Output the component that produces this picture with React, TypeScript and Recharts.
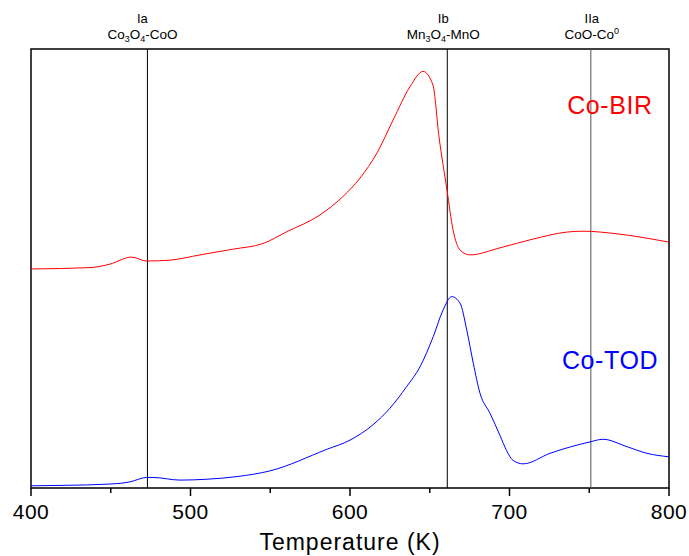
import React from 'react';
import { LineChart, Line, XAxis, YAxis, ReferenceLine, ReferenceArea, ReferenceDot } from 'recharts';

const birTemp = [400, 437, 449.5, 463, 472.5, 487, 506, 526.6, 545.5, 560.5, 581.2, 595.6, 606.3, 616.9, 627, 637.6, 645.8, 652, 655.8, 660.8, 664.6, 669, 675.2, 694, 714.7, 736.1, 746.1, 767.4, 800];
const birSignal = [49.9, 50.2, 51.0, 52.6, 51.7, 51.9, 53.1, 54.4, 55.7, 58.4, 62.2, 66.4, 70.6, 76.3, 83.8, 91.4, 94.9, 91.8, 80.0, 67.9, 58.8, 54.2, 53.1, 54.7, 56.7, 58.3, 58.5, 57.9, 56.0];

const todTemp = [400, 420.1, 449.5, 462.1, 472.5, 476.5, 493.4, 510.3, 529.2, 549.8, 585.4, 600, 614.4, 625.1, 635.5, 643.9, 652.2, 658.3, 663.8, 669, 673.2, 677.3, 681.5, 687.8, 694, 698.2, 702.2, 708.5, 725.4, 750.5, 758.6, 773.7, 786.2, 800];
const todSignal = [0.5, 0.6, 0.9, 1.4, 2.4, 2.4, 1.8, 2.0, 2.6, 3.9, 8.8, 10.9, 14.4, 18.2, 23.1, 27.6, 34.5, 40.5, 43.6, 42.1, 36.0, 28.4, 21.6, 17.0, 12.0, 8.5, 6.3, 5.5, 7.9, 10.5, 11.1, 9.4, 7.9, 7.1];

const xTicks = [400, 450, 500, 550, 600, 650, 700, 750, 800];

const birData = birTemp.map((t, i) => ({ t, v: birSignal[i] }));
const todData = todTemp.map((t, i) => ({ t, v: todSignal[i] }));

const FONT = 'Arial, "Liberation Sans", sans-serif';

const Tick = (props: any) => {
  const { x, y, payload } = props;
  const major = payload.value % 100 === 0;
  return (
    <g>
      <line x1={x} x2={x} y1={y} y2={y + (major ? 8 : 5)} stroke="#000" strokeWidth={1.5} />
      {major && (
        <text x={x} y={y + 31} textAnchor="middle" fontSize={21} letterSpacing={0.5} fontFamily={FONT} fill="#000">
          {payload.value}
        </text>
      )}
    </g>
  );
};

const TopLabel = (title: string, parts: { t: string; s?: 'sub' | 'sup' }[], dx: number) => (props: any) => {
  const vb = props.viewBox || {};
  const x = (vb.x ?? 0) + dx;
  return (
    <g>
      <text x={x} y={23} textAnchor="middle" fontSize={13} fontFamily={FONT} fill="#000">{title}</text>
      <text x={x} y={39} textAnchor="middle" fontSize={13.5} fontFamily={FONT} fill="#000">
        {parts.map((p, i) =>
          p.s === 'sub' ? (
            <tspan key={i} fontSize={9} dy={3}>{p.t}</tspan>
          ) : p.s === 'sup' ? (
            <tspan key={i} fontSize={9} dy={-5}>{p.t}</tspan>
          ) : (
            <tspan key={i} dy={i > 0 && parts[i - 1].s === 'sub' ? -3 : i > 0 && parts[i - 1].s === 'sup' ? 5 : 0}>{p.t}</tspan>
          )
        )}
      </text>
    </g>
  );
};

export default function App() {
  return (
    <div style={{ position: 'absolute', left: 0, top: 0, background: '#fff' }}>
      <LineChart width={689} height={556} margin={{ top: 49, right: 20, left: 31, bottom: 0 }}>
        <XAxis
          type="number"
          dataKey="t"
          domain={[400, 800]}
          ticks={xTicks}
          allowDataOverflow
          axisLine={false}
          tickLine={false}
          tickSize={0}
          tickMargin={0}
          height={68}
          tick={<Tick />}
          label={{ value: 'Temperature (K)', position: 'insideBottom', offset: 6, fontSize: 23, letterSpacing: 1, fontFamily: FONT, fill: '#000' }}
        />
        <YAxis type="number" domain={[0, 100]} hide allowDataOverflow />
        <ReferenceArea x1={400} x2={800} y1={0} y2={100} fill="none" stroke="#000" strokeWidth={1.5} ifOverflow="visible" />
        <ReferenceLine x={473} stroke="#000" strokeWidth={1} label={{ content: TopLabel('Ia', [{ t: 'Co' }, { t: '3', s: 'sub' }, { t: 'O' }, { t: '4', s: 'sub' }, { t: '-CoO' }], -5) }} />
        <ReferenceLine x={661} stroke="#000" strokeWidth={1} label={{ content: TopLabel('Ib', [{ t: 'Mn' }, { t: '3', s: 'sub' }, { t: 'O' }, { t: '4', s: 'sub' }, { t: '-MnO' }], -4) }} />
        <ReferenceLine x={751} stroke="#555" strokeWidth={1} label={{ content: TopLabel('IIa', [{ t: 'CoO-Co' }, { t: '0', s: 'sup' }], 1) }} />
        <Line data={birData} dataKey="v" type="monotone" stroke="#ff0000" strokeWidth={1} dot={false} isAnimationActive={false} />
        <Line data={todData} dataKey="v" type="monotone" stroke="#0000ff" strokeWidth={1} dot={false} isAnimationActive={false} />
        <ReferenceDot x={763} y={87.2} r={0} fill="none" stroke="none" label={{ value: 'Co-BIR', position: 'center', fontSize: 25, letterSpacing: 0.6, fontFamily: FONT, fill: '#ff0000' }} />
        <ReferenceDot x={763} y={29.2} r={0} fill="none" stroke="none" label={{ value: 'Co-TOD', position: 'center', fontSize: 25, letterSpacing: 0.6, fontFamily: FONT, fill: '#0000ff' }} />
      </LineChart>
    </div>
  );
}
